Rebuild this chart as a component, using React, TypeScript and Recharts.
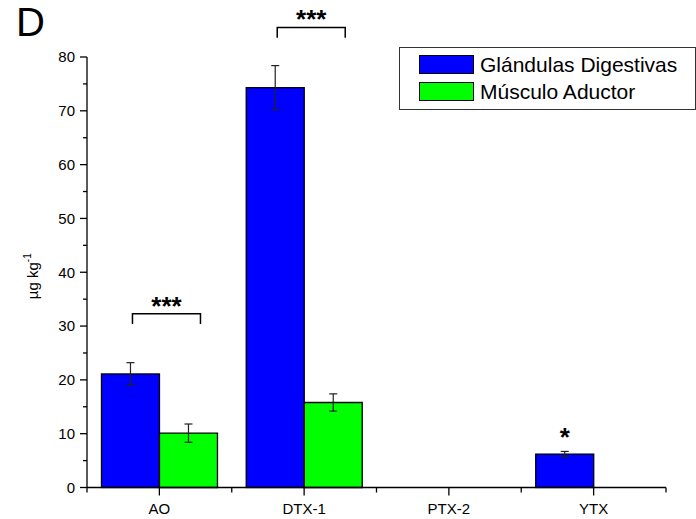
import React from 'react';
import { BarChart, Bar, XAxis, YAxis, ErrorBar, Legend } from 'recharts';

const categories = ['AO', 'DTX-1', 'PTX-2', 'YTX'];
const glandValues = [21.1, 74.3, null, 6.2];
const glandErrors = [2.1, 4.1, null, 0.5];
const muscleValues = [10.1, 15.8, null, null];
const muscleErrors = [1.7, 1.6, null, null];
const sigLabels = ['***', '***', '', '*'];
const sigLevels = [32.3, 85.5, null, 7.8];
const sigBracket = [true, true, false, false];
const yTicks = [0, 5, 10, 15, 20, 25, 30, 35, 40, 45, 50, 55, 60, 65, 70, 75, 80];

const seriesNames = ['Glándulas Digestivas', 'Músculo Aductor'];
const seriesColors = ['#0000FF', '#00FF00'];

const W = 696;
const H = 519;
const Y_AXIS_W = 40;
const X_AXIS_H = 30;
const margin = { top: 57, right: 30, bottom: 31.5 - X_AXIS_H, left: 87 - Y_AXIS_W };
const FONT = '"Liberation Sans", Arial, Helvetica, sans-serif';
const halfBand = (W - 87 - margin.right) / categories.length / 2;

const data = categories.map((c, i) => ({
  name: c,
  gland: glandValues[i],
  glandErr: glandErrors[i],
  muscle: muscleValues[i],
  muscleErr: muscleErrors[i],
  sig: sigLabels[i],
  sigLevel: sigLevels[i],
  bracket: sigBracket[i],
}));

// blue bar + significance marks drawn from the bar's own geometry
const GlandShape = (props: any) => {
  const { x, y, width, height, payload, value } = props;
  if (value == null || !height) return null;
  const v = Array.isArray(value) ? value[1] - value[0] : value;
  const pxPerUnit = height / v;
  const bottom = y + height;
  let marks = null;
  if (payload.sigLevel != null) {
    const ly = bottom - payload.sigLevel * pxPerUnit;
    if (payload.bracket) {
      const x1 = x + width / 2 + 2;
      const x2 = x + width * 1.5 + 12;
      const leg = 1.9 * pxPerUnit;
      marks = (
        <g>
          <path d={`M${x1},${ly + leg}V${ly}H${x2}V${ly + leg}`} fill="none" stroke="#000" strokeWidth={1.5} />
          <text x={(x1 + x2) / 2} y={ly + 1} textAnchor="middle" fontSize={26} fontWeight="bold" fontFamily={FONT} fill="#000">
            {payload.sig}
          </text>
        </g>
      );
    } else {
      marks = (
        <text x={x + width / 2} y={ly} textAnchor="middle" fontSize={26} fontWeight="bold" fontFamily={FONT} fill="#000">
          {payload.sig}
        </text>
      );
    }
  }
  return (
    <g>
      <rect x={x} y={y} width={width} height={height} fill={seriesColors[0]} stroke="#000" strokeWidth={1.3} />
      {marks}
    </g>
  );
};

const YTick = (props: any) => {
  const { x, y, payload } = props;
  const major = payload.value % 10 === 0;
  return (
    <g>
      <line x1={x - (major ? 7 : 4)} x2={x} y1={y} y2={y} stroke="#000" strokeWidth={1.3} />
      {major && (
        <text x={x - 12} y={y} dy="0.36em" textAnchor="end" fontSize={15} fontFamily={FONT} fill="#000">
          {payload.value}
        </text>
      )}
    </g>
  );
};

const XTick = (props: any) => {
  const { x, y, payload, index } = props;
  const last = index === categories.length - 1;
  return (
    <g>
      <line x1={x} x2={x} y1={y} y2={y + 8} stroke="#000" strokeWidth={1.3} />
      <line x1={x - halfBand} x2={x - halfBand} y1={y} y2={y + 5} stroke="#000" strokeWidth={1.3} />
      {last && <line x1={x + halfBand} x2={x + halfBand} y1={y} y2={y + 5} stroke="#000" strokeWidth={1.3} />}
      <text x={x} y={y + 26} textAnchor="middle" fontSize={15} fontFamily={FONT} fill="#000">
        {payload.value}
      </text>
    </g>
  );
};

const YLabel = (props: any) => {
  const { viewBox } = props;
  const cx = 38;
  const cy = viewBox.y + viewBox.height / 2 + 4;
  return (
    <text x={cx} y={cy} transform={`rotate(-90 ${cx} ${cy})`} textAnchor="middle" fontSize={15} fontFamily={FONT} fill="#000">
      µg kg<tspan fontSize={10} dy={-7}>-1</tspan>
    </text>
  );
};

const LegendBox = () => (
  <div
    style={{
      width: 297,
      height: 63,
      boxSizing: 'border-box',
      border: '1px solid #333',
      background: '#fff',
      paddingTop: 3,
      fontFamily: FONT,
    }}
  >
    {seriesNames.map((n, i) => (
      <div key={n} style={{ display: 'flex', alignItems: 'center', height: 27, paddingLeft: 19 }}>
        <div style={{ width: 55, height: 19, boxSizing: 'border-box', background: seriesColors[i], border: '1px solid #000', marginRight: 6 }} />
        <span style={{ fontSize: 21, lineHeight: '24px', color: '#000', whiteSpace: 'nowrap' }}>{n}</span>
      </div>
    ))}
  </div>
);

export default function App() {
  return (
    <div style={{ position: 'absolute', left: 0, top: 0, width: W, height: H, background: '#fff' }}>
      <div style={{ position: 'absolute', left: 16, top: 0, fontSize: 40, lineHeight: 'normal', fontFamily: FONT, color: '#000' }}>
        D
      </div>
      <BarChart width={W} height={H} data={data} margin={margin} barCategoryGap="10%" barGap={0}>
        <XAxis
          dataKey="name"
          height={X_AXIS_H}
          tickSize={0}
          tickMargin={0}
          interval={0}
          tick={<XTick />}
          axisLine={{ stroke: '#000', strokeWidth: 1.3 }}
          tickLine={false}
        />
        <YAxis
          width={Y_AXIS_W}
          domain={[0, 80]}
          ticks={yTicks}
          interval={0}
          tickSize={0}
          tickMargin={0}
          tick={<YTick />}
          axisLine={{ stroke: '#000', strokeWidth: 1.3 }}
          tickLine={false}
          label={<YLabel />}
        />
        <Legend
          layout="horizontal"
          verticalAlign="middle"
          align="center"
          content={<LegendBox />}
          wrapperStyle={{ left: 399, top: 47, width: 297 }}
        />
        <Bar dataKey="gland" name={seriesNames[0]} fill={seriesColors[0]} shape={<GlandShape />} isAnimationActive={false}>
          <ErrorBar dataKey="glandErr" width={4} stroke="#222" strokeWidth={1.2} isAnimationActive={false} />
        </Bar>
        <Bar dataKey="muscle" name={seriesNames[1]} fill={seriesColors[1]} stroke="#000" strokeWidth={1.3} isAnimationActive={false}>
          <ErrorBar dataKey="muscleErr" width={4} stroke="#222" strokeWidth={1.2} isAnimationActive={false} />
        </Bar>
      </BarChart>
    </div>
  );
}
